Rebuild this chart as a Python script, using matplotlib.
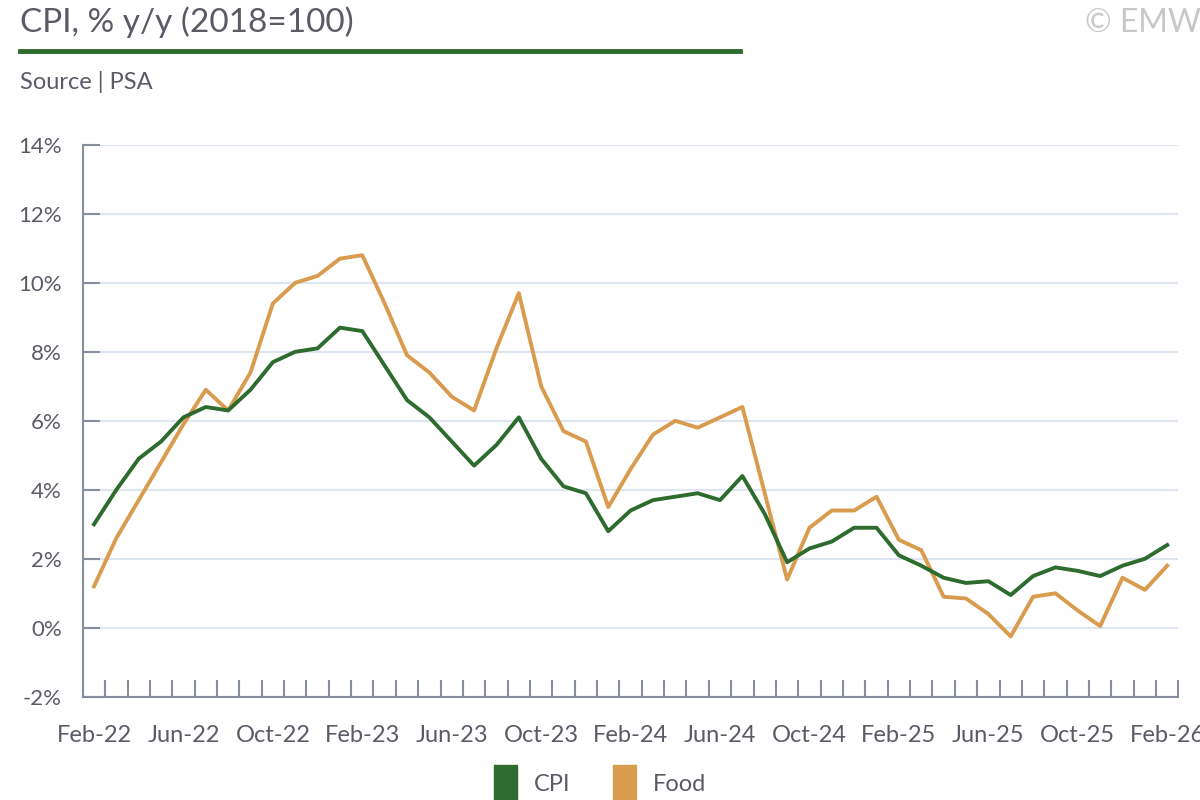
import matplotlib.pyplot as plt
from matplotlib.patches import Patch
from matplotlib.lines import Line2D

plt.rcParams['font.family'] = ['Lato', 'DejaVu Sans']

months = ['Feb-22', 'Mar-22', 'Apr-22', 'May-22', 'Jun-22', 'Jul-22', 'Aug-22', 'Sep-22',
          'Oct-22', 'Nov-22', 'Dec-22', 'Jan-23', 'Feb-23', 'Mar-23', 'Apr-23', 'May-23',
          'Jun-23', 'Jul-23', 'Aug-23', 'Sep-23', 'Oct-23', 'Nov-23', 'Dec-23', 'Jan-24',
          'Feb-24', 'Mar-24', 'Apr-24', 'May-24', 'Jun-24', 'Jul-24', 'Aug-24', 'Sep-24',
          'Oct-24', 'Nov-24', 'Dec-24', 'Jan-25', 'Feb-25', 'Mar-25', 'Apr-25', 'May-25',
          'Jun-25', 'Jul-25', 'Aug-25', 'Sep-25', 'Oct-25', 'Nov-25', 'Dec-25', 'Jan-26',
          'Feb-26']

cpi = [3.0, 4.0, 4.9, 5.4, 6.1, 6.4, 6.3, 6.9, 7.7, 8.0, 8.1, 8.7, 8.6, 7.6, 6.6, 6.1,
       5.4, 4.7, 5.3, 6.1, 4.9, 4.1, 3.9, 2.8, 3.4, 3.7, 3.8, 3.9, 3.7, 4.4, 3.3, 1.9,
       2.3, 2.5, 2.9, 2.9, 2.1, 1.8, 1.45, 1.3, 1.35, 0.95, 1.5, 1.75, 1.65, 1.5, 1.8, 2.0,
       2.4]

food = [1.2, 2.6, 3.7, 4.8, 5.9, 6.9, 6.3, 7.4, 9.4, 10.0, 10.2, 10.7, 10.8, 9.4, 7.9, 7.4,
        6.7, 6.3, 8.1, 9.7, 7.0, 5.7, 5.4, 3.5, 4.6, 5.6, 6.0, 5.8, 6.1, 6.4, 3.9, 1.4,
        2.9, 3.4, 3.4, 3.8, 2.55, 2.25, 0.9, 0.85, 0.4, -0.25, 0.9, 1.0, 0.5, 0.05, 1.45, 1.1,
        1.8]

yticks = [-2, 0, 2, 4, 6, 8, 10, 12, 14]

green = '#2e6b2e'
orange = '#d99b4e'
grid_col = '#dde6f0'
axis_col = '#878d9c'
text_col = '#5b5b66'

fig = plt.figure(figsize=(12, 8), dpi=100)
ax = fig.add_axes([0.069, 0.129, 0.913, 0.69])

x = list(range(len(months)))
ax.plot(x, cpi, color=green, linewidth=2.8, zorder=3)
ax.plot(x, food, color=orange, linewidth=2.8, zorder=2)

ax.set_xlim(-0.5, len(months) - 0.5)
ax.set_ylim(-2, 14)
ax.set_yticks(yticks)
ax.set_yticklabels([f'{v}%' for v in yticks])
ax.yaxis.grid(True, color=grid_col, linewidth=1.5)
ax.set_axisbelow(True)

ax.set_xticks(x[::4])
ax.set_xticklabels(months[::4])
ax.set_xticks([i - 0.5 for i in range(len(months) + 1)], minor=True)
ax.tick_params(axis='x', which='major', length=0, pad=20, labelsize=17, labelcolor=text_col)
ax.tick_params(axis='x', which='minor', direction='in', length=12, width=1.5, color=axis_col)
ax.tick_params(axis='y', direction='in', length=12, width=1.5, color=axis_col,
               pad=15, labelsize=16, labelcolor=text_col)

for s in ['top', 'right']:
    ax.spines[s].set_visible(False)
for s in ['left', 'bottom']:
    ax.spines[s].set_color(axis_col)
    ax.spines[s].set_linewidth(1.5)

fig.text(0.017, 0.972, 'CPI, % y/y (2018=100)', fontsize=24, color=text_col, va='center')
fig.add_artist(Line2D([0.017, 0.617], [0.936, 0.936], color=green, linewidth=3.5))
fig.text(0.017, 0.898, 'Source | PSA', fontsize=17, color=text_col, va='center')
fig.text(0.904, 0.972, '© EMW', fontsize=23, color='#c8c8cc', va='center')

handles = [Patch(color=green, label='CPI'), Patch(color=orange, label='Food')]
fig.legend(handles=handles, loc='center', bbox_to_anchor=(0.5, 0.021), ncol=2, frameon=False,
           fontsize=17, labelcolor=text_col, handlelength=1.0, handleheight=2.0,
           handletextpad=0.7, columnspacing=1.8)

fig.savefig('out.png')
